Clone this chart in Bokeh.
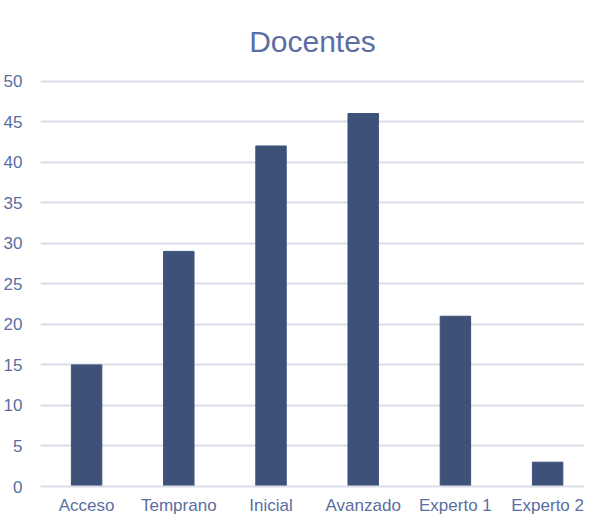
from bokeh.plotting import figure
from bokeh.models import Range1d, FixedTicker, SingleIntervalTicker, ColumnDataSource
from bokeh.embed import file_html
from bokeh.resources import INLINE

categories = ["Acceso", "Temprano", "Inicial", "Avanzado", "Experto 1", "Experto 2"]
values = [15, 29, 42, 46, 21, 3]

FONT = "Liberation Sans"
TEXT = "#5a6ea3"
BAR = "#3d5179"
GRID = "#d9deea"

xpos = [i + 0.5 for i in range(len(categories))]
src = ColumnDataSource(dict(x=xpos, val=values))

p = figure(width=584, height=517, output_backend="svg", toolbar_location=None,
           x_range=Range1d(0, 5.9),
           y_range=Range1d(0, 50.2),
           min_border_left=33, min_border_right=0, min_border_bottom=0, min_border_top=10)
p.title.text = "Docentes"
p.title.align = "center"
p.title.text_font = FONT
p.title.text_font_size = "30px"
p.title.text_font_style = "normal"
p.title.text_color = TEXT
p.title.offset = 0
p.title.standoff = 44

p.vbar(x="x", top="val", width=0.33, source=src, color=BAR)

p.outline_line_color = None
p.xgrid.grid_line_color = None
p.ygrid.grid_line_color = GRID
p.ygrid.grid_line_width = 2
p.yaxis.ticker = SingleIntervalTicker(interval=5)
p.yaxis.axis_line_color = None
p.yaxis.major_tick_line_color = None
p.yaxis.minor_tick_line_color = None
p.yaxis.major_label_text_font = FONT
p.yaxis.major_label_text_font_size = "17px"
p.yaxis.major_label_text_color = TEXT
p.yaxis.major_label_standoff = 12

p.xaxis.ticker = FixedTicker(ticks=xpos)
p.xaxis.major_label_overrides = {x: c for x, c in zip(xpos, categories)}
p.xaxis.axis_line_color = GRID
p.xaxis.axis_line_width = 2
p.xaxis.major_tick_line_color = None
p.xaxis.minor_tick_line_color = None
p.xaxis.major_tick_out = 0
p.xaxis.major_tick_in = 0
p.xaxis.axis_label_standoff = 0
p.xaxis.major_label_text_font = FONT
p.xaxis.major_label_text_font_size = "17px"
p.xaxis.major_label_text_color = TEXT
p.xaxis.major_label_standoff = 9

open("out.html", "w").write(file_html(p, INLINE))
